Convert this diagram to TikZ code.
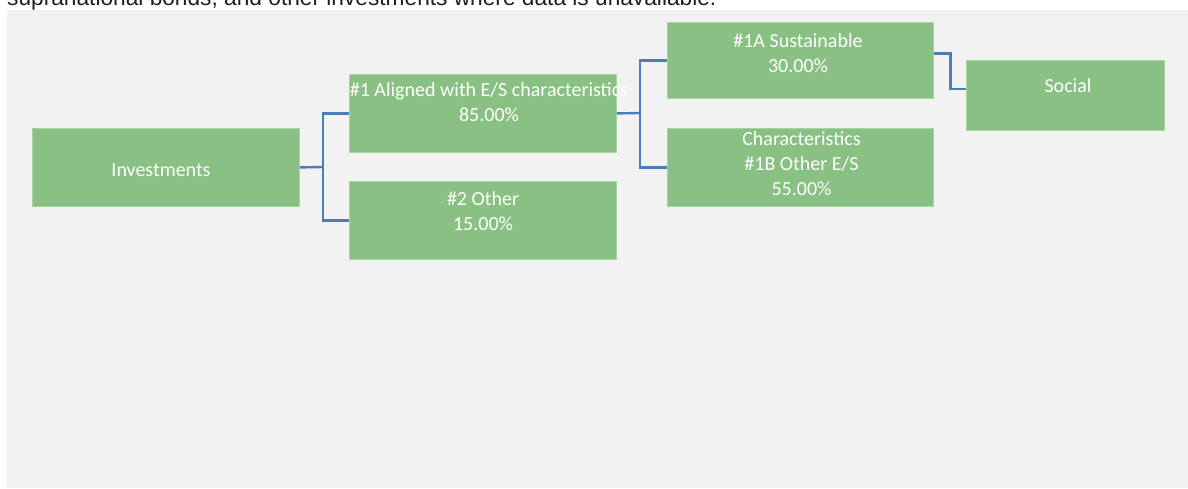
\documentclass[tikz,border=0pt]{standalone}
\usepackage{fontspec}
\setmainfont{Carlito}
\newfontfamily\topfont{Liberation Sans}
\definecolor{bggray}{HTML}{F2F2F2}
\definecolor{boxgreen}{HTML}{89C083}
\definecolor{boxedge}{HTML}{A8D3A2}
\definecolor{linkblue}{HTML}{4A7EBB}
\tikzset{
  box/.style={fill=boxgreen, draw=boxedge, line width=0.8pt, inner sep=0pt, anchor=north west},
  boxtext/.style={text=white, font=\fontsize{20}{25}\selectfont, inner sep=0pt, anchor=base, align=center},
  link/.style={draw=linkblue, line width=2.4pt}
}
\begin{document}
\begin{tikzpicture}[x=1pt,y=-1pt]
\useasboundingbox (0,0) rectangle (1188,488);
\clip (0,0) rectangle (1188,488);
\fill[white] (0,0) rectangle (1188,488);
\fill[bggray] (7,10) rectangle (1188,488);
\node[anchor=base west, inner sep=0pt, text=black!88, font=\topfont\fontsize{22.7}{26}\selectfont] (note) at (7,5.5) {supranational bonds, and other investments where data is unavailable.};

% boxes
\node[box, minimum width=267, minimum height=78] (inv) at (32,128) {};
\node[box, minimum width=267, minimum height=78] (a1) at (349,74) {};
\node[box, minimum width=267, minimum height=78] (o2) at (349,181) {};
\node[box, minimum width=266, minimum height=76] (s1a) at (667,22) {};
\node[box, minimum width=266, minimum height=78] (o1b) at (667,128) {};
\node[box, minimum width=198, minimum height=70] (soc) at (966,60) {};

% texts (anchor = baseline of the last line)
\node[boxtext] (tinv) at (161,176.5) {Investments};
\node[boxtext] (ta1) at (489,121) {\#1 Aligned with E/S characteristics\\85.00\%};
\node[boxtext] (to2) at (483,230) {\#2 Other\\15.00\%};
\node[boxtext] (ts1a) at (798,72) {\#1A Sustainable\\30.00\%};
\node[boxtext] (to1b) at (801.5,195) {Characteristics\\\#1B Other E/S\\55.00\%};
\node[boxtext] (tsoc) at (1068,92.3) {Social};

% connectors
\coordinate (j1) at (323,167);
\draw[link] (inv.east) -- (j1);
\draw[link] (j1) |- (a1.west);
\draw[link] (j1) |- (o2.west);
\coordinate (j2) at (640,113);
\draw[link] (a1.east) -- (j2);
\draw[link] (j2) |- (s1a.west);
\draw[link] (j2) |- (o1b.west);
\coordinate (k1) at (934,53.3);
\coordinate (k2) at (966,89);
\draw[link] (k1) -- ++(16.5,0) |- (k2);
\end{tikzpicture}
\end{document}
